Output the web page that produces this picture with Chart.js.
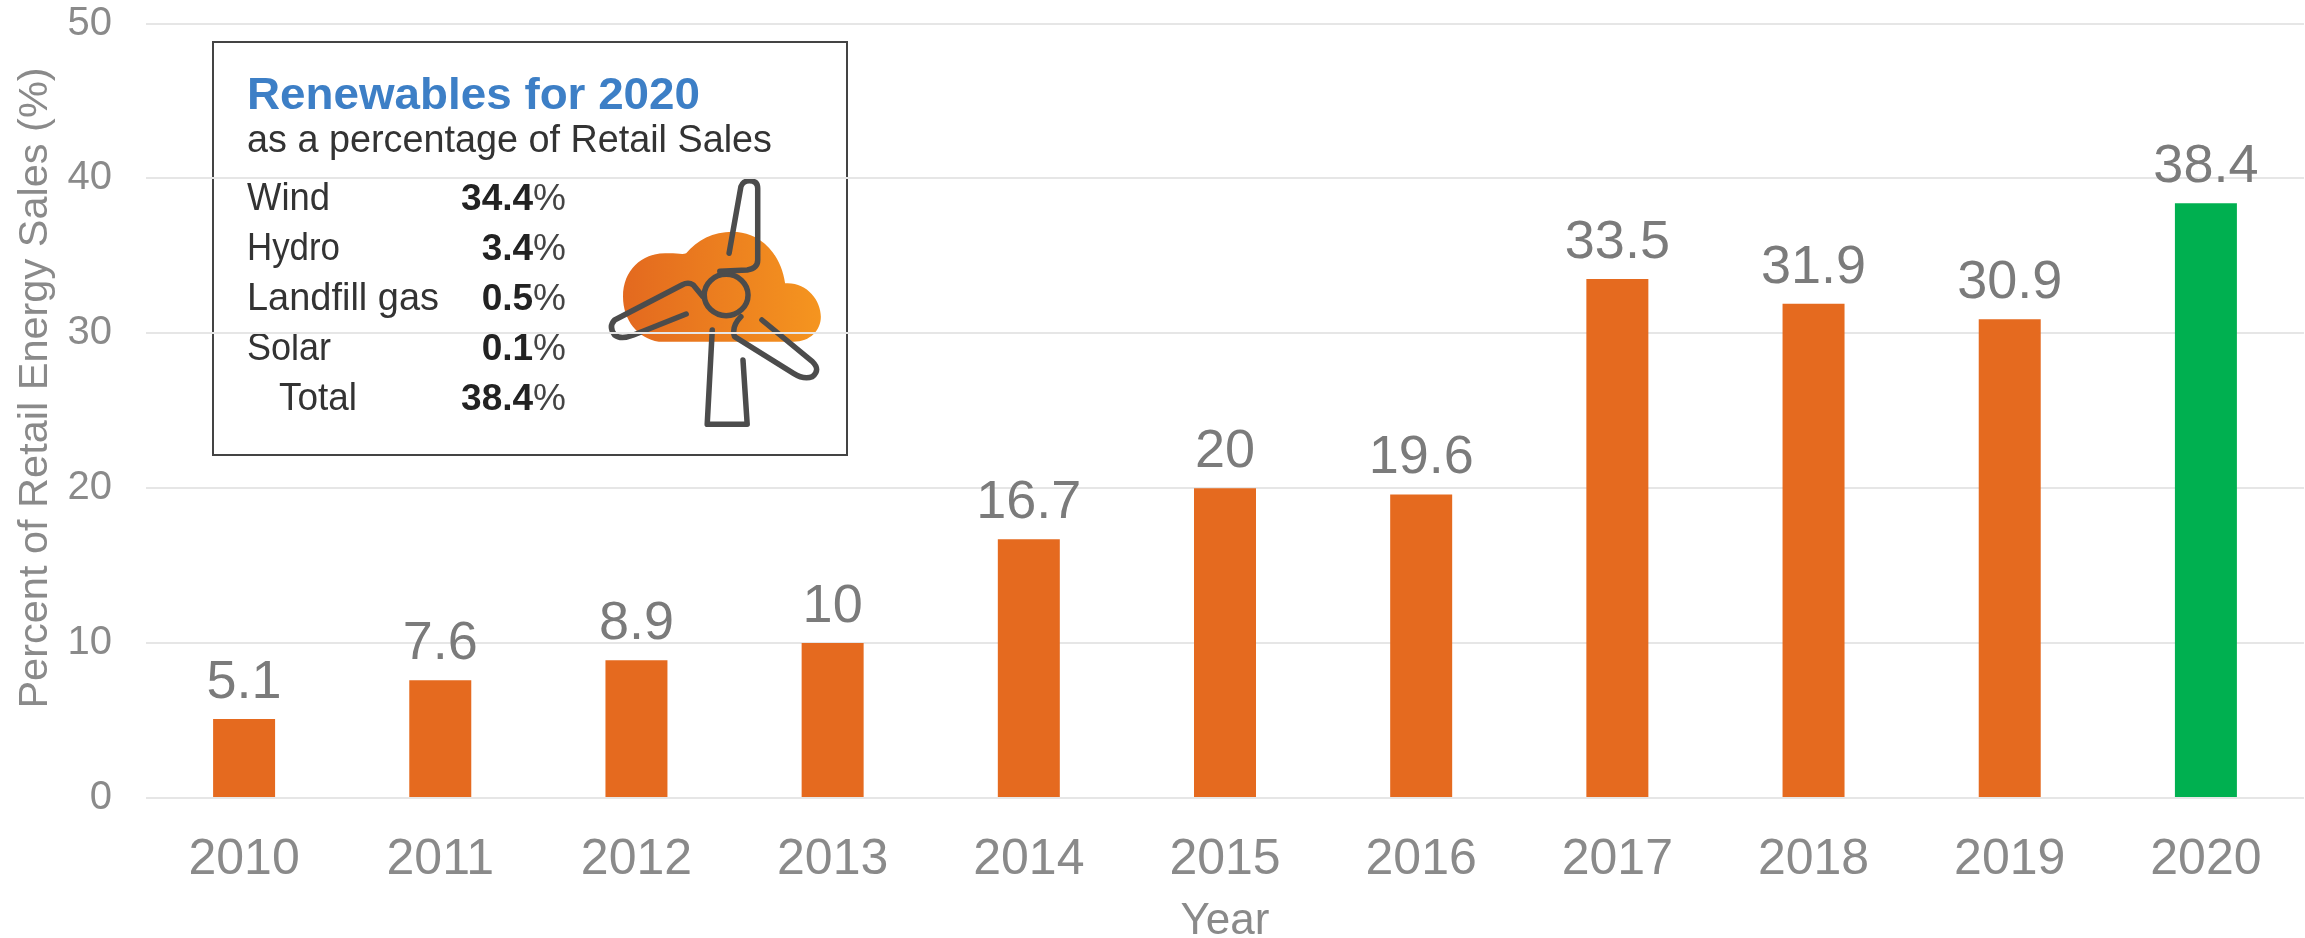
<!DOCTYPE html>
<html><head><meta charset="utf-8">
<style>
html,body{margin:0;padding:0;background:#fff;overflow:hidden}
#wrap{position:relative;width:2305px;height:938px}
#inset{position:absolute;left:0;top:0;z-index:0}
#c{position:absolute;left:0;top:0;z-index:1}
</style>
<script src="https://cdn.jsdelivr.net/npm/chart.js@4"></script>
</head><body>
<div id="wrap">
<svg id="inset" width="2305" height="938" xmlns="http://www.w3.org/2000/svg"></svg>
<canvas id="c" width="2305" height="938"></canvas>
</div>
<script>
const years = ['2010','2011','2012','2013','2014','2015','2016','2017','2018','2019','2020'];
const percentRenewable = [5.1,7.6,8.9,10,16.7,20,19.6,33.5,31.9,30.9,38.4];
const yTicks = [0,10,20,30,40,50];
const ORANGE = '#e56a1f', GREEN = '#00b050', TICK = '#8a8a8a', LABEL = '#7b7b7b';
const barColors = years.map(y => y === '2020' ? GREEN : ORANGE);
const insetTitle = 'Renewables for 2020';
const insetSub = 'as a percentage of Retail Sales';
const insetNames = ['Wind','Hydro','Landfill gas','Solar','Total'];
const insetShares = ['34.4','3.4','0.5','0.1','38.4'];
const yAxisTitle = 'Percent of Retail Energy Sales (%)';

const FONT = '"Liberation Sans", Arial, sans-serif';

// inset panel (sits beneath the transparent canvas so gridlines cross it)
(function(){
  const rowY = [210,260,310,360,410];
  const rowX = [247,247,247,247,279];
  const rowW = [83,93,192,84,78];
  let s = '<defs><linearGradient id="g" x1="0" x2="1" y1="0" y2="0"><stop offset="0" stop-color="#e3691f"/><stop offset="1" stop-color="#f5951f"/></linearGradient></defs>';
  s += '<g style="filter:blur(0.6px)">';
  s += '<rect x="213" y="42" width="634" height="413" fill="none" stroke="#444" stroke-width="2"/>';
  s += `<text x="247" y="109" font-family='${FONT}' font-weight="700" font-size="45" fill="#3d7fc6" textLength="453" lengthAdjust="spacingAndGlyphs">${insetTitle}</text>`;
  s += `<text x="247" y="152" font-family='${FONT}' font-size="38" fill="#333" textLength="525" lengthAdjust="spacingAndGlyphs">${insetSub}</text>`;
  insetNames.forEach((n,i)=>{
    s += `<text x="${rowX[i]}" y="${rowY[i]}" font-family='${FONT}' font-size="39" fill="#333" textLength="${rowW[i]}" lengthAdjust="spacingAndGlyphs">${n}</text>`;
    s += `<text x="566" y="${rowY[i]}" text-anchor="end" font-family='${FONT}' font-size="37" fill="#222"><tspan font-weight="700">${insetShares[i]}</tspan><tspan fill="#444">%</tspan></text>`;
  });
  s += '<svg x="200" y="30" width="660" height="440" viewBox="0 0 1568 1320" preserveAspectRatio="none" overflow="visible">';
  s += '<path fill="url(#g)" d="M1090 935 C1040 925 1005 870 1005 800 C1005 720 1050 670 1105 670 C1130 668 1145 675 1155 670 C1180 630 1220 605 1265 605 C1330 605 1380 670 1390 760 C1440 755 1475 810 1475 860 C1475 900 1450 935 1410 935 Z"/>';
  const tp = 'fill="none" stroke="#4c4c4c" stroke-width="5.5" stroke-linejoin="round" stroke-linecap="round" vector-effect="non-scaling-stroke"';
  s += `<ellipse cx="1250" cy="795" rx="52" ry="62" ${tp}/>`;
  s += `<path ${tp} d="M1257 670 L1285 470 Q1290 452 1305 452 Q1325 452 1325 475 L1325 690 Q1325 715 1300 720 L1235 724"/>`;
  s += `<path ${tp} d="M1195 800 L1172 765 Q1160 755 1145 765 L985 870 Q970 890 985 915 Q1000 930 1030 915 L1155 852"/>`;
  s += `<path ${tp} d="M1335 870 L1455 995 Q1475 1020 1455 1040 Q1435 1050 1410 1030 L1270 920 Q1262 890 1285 860"/>`;
  s += `<path ${tp} d="M1217 900 L1205 1183 L1300 1183 L1290 990"/>`;
  s += '</svg></g>';
  document.getElementById('inset').innerHTML = s;
})();

const valueLabels = {
  id:'valueLabels',
  afterDatasetsDraw(chart){
    const {ctx} = chart;
    ctx.save();
    ctx.font = '54px '+FONT;
    ctx.fillStyle = LABEL;
    ctx.textAlign = 'center';
    ctx.textBaseline = 'alphabetic';
    chart.getDatasetMeta(0).data.forEach((bar,i)=>{
      ctx.fillText(String(percentRenewable[i]), bar.x, bar.y - 21);
    });
    // y axis title, centred a little above the plot's middle as in the reference
    ctx.font = '41.5px '+FONT;
    ctx.fillStyle = TICK;
    ctx.textBaseline = 'middle';
    ctx.translate(36, 388);
    ctx.rotate(-Math.PI/2);
    ctx.fillText(yAxisTitle, 0, 0);
    ctx.restore();
  }
};

new Chart(document.getElementById('c'),{
  type:'bar',
  data:{labels:years,datasets:[{data:percentRenewable,backgroundColor:barColors,barPercentage:0.316,categoryPercentage:1}]},
  plugins:[valueLabels],
  options:{
    responsive:false,animation:false,devicePixelRatio:1,
    layout:{padding:{top:23.5,right:1,left:0,bottom:0}},
    plugins:{legend:{display:false},tooltip:{enabled:false},title:{display:false}},
    scales:{
      x:{
        grid:{display:false},border:{display:false},
        ticks:{color:TICK,font:{family:FONT,size:50},padding:24,maxRotation:0,autoSkip:false},
        title:{display:true,text:'Year',color:TICK,font:{family:FONT,size:44},padding:{top:0,bottom:-10}},
        afterFit(s){s.height=140;s.paddingLeft=0;s.paddingRight=0;}
      },
      y:{
        min:0,max:50,
        grid:{color:'#e6e6e6',lineWidth:2,drawTicks:false},border:{display:false},
        afterBuildTicks(s){s.ticks=yTicks.map(v=>({value:v}));},
        ticks:{color:TICK,font:{family:FONT,size:40},padding:34},
        afterFit(s){s.width=146;s.paddingTop=0;s.paddingBottom=0;}
      }
    }
  }
});
</script>
</body></html>
